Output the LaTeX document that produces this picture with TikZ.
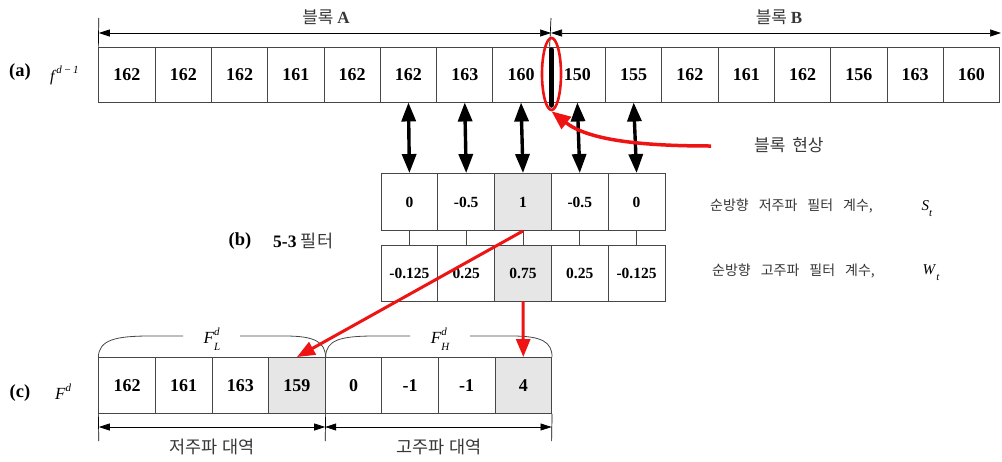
\documentclass[tikz,border=0pt]{standalone}
\usepackage{fontspec}
\setmainfont{Liberation Serif}
\newfontfamily\kr{Noto Sans CJK KR}
\usetikzlibrary{arrows.meta,shapes.geometric}

\definecolor{cellline}{RGB}{70,70,70}
\definecolor{cellgray}{RGB}{230,230,230}
\definecolor{krtext}{RGB}{55,55,55}
\definecolor{alertred}{RGB}{238,20,20}

% italic symbol with raised superscript and lowered subscript
\newcommand\symb[3]{\textit{#1}\rlap{\raisebox{0.5em}{\fontsize{11}{11}\selectfont\itshape #2}}\raisebox{-0.4em}{\fontsize{11}{11}\selectfont\itshape #3}}
% wide word gap used in the coefficient captions
\newcommand\wgap{\hspace{10pt}}

\begin{document}
\begin{tikzpicture}[x=1pt,y=-1pt,
  cell/.style={draw=cellline, line width=0.9pt, inner sep=0pt,
    minimum width=56.3pt, minimum height=55pt,
    font=\bfseries\fontsize{18}{18}\selectfont},
  fcell/.style={draw=cellline, line width=0.9pt, inner sep=0pt,
    minimum width=56.8pt, font=\bfseries\fontsize{15.5}{15.5}\selectfont},
  krlabel/.style={font=\kr\fontsize{17}{17}\selectfont, text=krtext, inner sep=0pt},
  caption/.style={font=\kr\fontsize{14}{14}\selectfont, text=krtext, inner sep=0pt, anchor=west},
  tag/.style={font=\bfseries\fontsize{18.5}{18.5}\selectfont, inner sep=0pt},
  dim/.style={line width=0.7pt, {Triangle[length=11pt,width=7pt]}-{Triangle[length=11pt,width=7pt]}},
  tick/.style={line width=0.7pt},
  bigdouble/.style={line width=3.4pt, {Triangle[length=19pt,width=14pt]}-{Triangle[length=19pt,width=14pt]}},
  redarrow/.style={draw=alertred, line width=3pt, -{Triangle[length=18pt,width=14pt]}},
  bracket/.style={draw=cellline, line width=0.8pt}
]
\useasboundingbox (0,0) rectangle (1002,461);

% ---------- (a) pixel row f^{d-1} ----------
\foreach \v [count=\i] in {162,162,162,161,162,162,163,160,150,155,162,161,162,156,163,160}
  \node[cell] (a\i) at ({98.8+(\i-0.5)*56.3}, 74.5) {\v};

\node[tag] (taga) at (20,72) {(a)};
\node[inner sep=0pt, anchor=west, font=\fontsize{16}{16}\selectfont] (fa) at (50,77) {\symb{f}{d\,−\,1}{}};

% block dimension lines
\coordinate (tA0) at (98.8,18);
\coordinate (tA1) at (98.8,33);
\coordinate (tM0) at (551,18);
\coordinate (tM1) at (551,33);
\coordinate (tB1) at (1001,33);
\draw[tick] (tA0) -- (a1.north west);
\draw[tick] (tM0) -- (a8.north east);
\draw[dim] (tA1) -- (tM1);
\draw[dim] (tM1) -- (tB1);
\node[krlabel] (blkA) at (326,17) {블록 {\rmfamily\bfseries A}};
\node[krlabel] (blkB) at (779,17) {블록 {\rmfamily\bfseries B}};

% block boundary artefact
\coordinate (bar0) at (551.5,50);
\coordinate (bar1) at (551.5,105);
\draw[line width=5.5pt, line cap=round] (bar0) -- (bar1);
\node[draw=alertred, line width=2.6pt, ellipse, minimum width=19pt, minimum height=72pt, inner sep=0pt] (blob) at (551.5,74) {};

% ---------- (b) 5-3 filter ----------
\foreach \v/\f [count=\i] in {0/white,-0.5/white,1/cellgray,-0.5/white,0/white}
  \node[fcell, minimum height=57pt, fill=\f] (s\i) at ({381+(\i-0.5)*56.8}, 202) {\v};
\foreach \v/\f [count=\i] in {-0.125/white,0.25/white,0.75/cellgray,0.25/white,-0.125/white}
  \node[fcell, minimum height=56pt, fill=\f] (w\i) at ({381+(\i-0.5)*56.8}, 273) {\v};
\foreach \i in {1,...,5}
  \draw[line width=0.8pt, draw=cellline] (s\i.south) -- (w\i.north);

\node[tag] (tagb) at (240,241) {(b)};
\node[anchor=west, inner sep=0pt] (fname) at (273,241) {\bfseries\fontsize{17.5}{17.5}\selectfont 5-3 \kr\mdseries\color{krtext}필터};

\node[caption] (slab) at (710,206) {순방향\wgap 저주파\wgap 필터\wgap 계수,};
\node[caption] (wlab) at (712,271) {순방향\wgap 고주파\wgap 필터\wgap 계수,};
\node[inner sep=0pt, font=\fontsize{15}{15}\selectfont] (ssym) at (927,209) {\symb{S}{}{t}};
\node[inner sep=0pt, font=\fontsize{15}{15}\selectfont] (wsym) at (931,273) {\symb{W}{}{t}};

% filter taps against the block samples
\foreach \i/\j in {6/1,7/2,8/3,9/4,10/5}
  \draw[bigdouble] (a\i.south) -- (s\j.north);

% ---------- (c) transformed coefficients ----------
\foreach \v/\f [count=\i] in {162/white,161/white,163/white,159/cellgray,0/white,-1/white,-1/white,4/cellgray}
  \node[cell, minimum width=56.6pt, minimum height=56pt, fill=\f] (c\i) at ({98.8+(\i-0.5)*56.6}, 385.5) {\v};

\node[tag] (tagc) at (20,393) {(c)};
\node[inner sep=0pt, anchor=west, font=\fontsize{17}{17}\selectfont] (fc) at (55,395) {\symb{F}{d}{}};

% brackets grouping the two bands
\draw[bracket] (c1.north west) .. controls (99,340) and (115,336) .. (150,336) -- (183,336);
\draw[bracket] (240,336) -- (285,336) .. controls (315,336) and (325,342) .. (c4.north east);
\draw[bracket] (c4.north east) .. controls (326,340) and (340,336) .. (375,336) -- (410,336);
\draw[bracket] (470,336) -- (512,336) .. controls (542,336) and (552,342) .. (c8.north east);
\node[inner sep=0pt, font=\fontsize{17}{17}\selectfont] (fl) at (212,339) {\symb{F}{d}{L}};
\node[inner sep=0pt, font=\fontsize{17}{17}\selectfont] (fh) at (440,339) {\symb{F}{d}{H}};

% band dimension lines
\coordinate (d0) at (98.8,441);
\coordinate (d1) at (325.2,441);
\coordinate (d2) at (551.6,441);
\coordinate (e0) at (98.8,427);
\coordinate (e1) at (325.2,427);
\coordinate (e2) at (551.6,427);
\draw[tick] (c1.south west) -- (d0);
\draw[tick] (c4.south east) -- (d1);
\draw[tick] (c8.south east) -- (d2);
\draw[dim] (e0) -- (e1);
\draw[dim] (e1) -- (e2);
\node[krlabel, font=\kr\fontsize{17.5}{17.5}\selectfont] (lowband) at (212,447) {저주파 대역};
\node[krlabel, font=\kr\fontsize{17.5}{17.5}\selectfont] (highband) at (439,447) {고주파 대역};

% ---------- red annotations ----------
\coordinate (cs) at (711,146);
\draw[draw=alertred, line width=3.5pt, -{Triangle[length=19pt,width=15pt]}]
  (cs) .. controls (640,146) and (588,140) .. (blob.south);
\node[krlabel, anchor=west] (artefact) at (754,145) {블록\hspace{3pt} 현상};

\draw[redarrow] (s3.south) -- (c4.north);
\draw[redarrow] (w3.south) -- (c8.north);
\end{tikzpicture}
\end{document}
